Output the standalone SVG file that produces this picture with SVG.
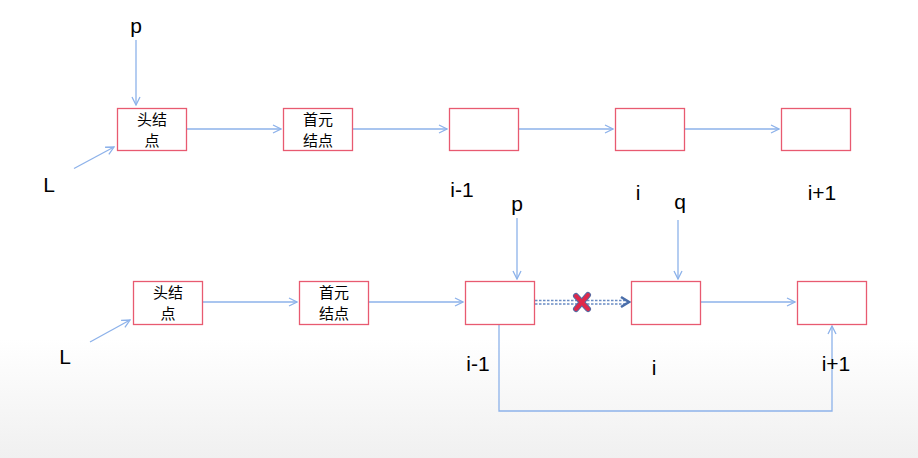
<svg xmlns="http://www.w3.org/2000/svg" width="918" height="458" viewBox="0 0 918 458">
<defs>
<linearGradient id="bg" x1="0" y1="0" x2="0" y2="1">
<stop offset="0" stop-color="#ffffff"/>
<stop offset="0.74" stop-color="#ffffff"/>
<stop offset="1" stop-color="#f0f0f0"/>
</linearGradient>
<marker id="arr" viewBox="0 0 10 10" refX="9" refY="5" markerWidth="10" markerHeight="10" markerUnits="userSpaceOnUse" orient="auto">
<path d="M1,1 L9,5 L1,9" fill="none" stroke="#8db2ea" stroke-width="1.3"/>
</marker>
<style>
.box{fill:#fff;stroke:#e85a70;stroke-width:1.3}
.ln{fill:none;stroke:#8db2ea;stroke-width:1.3}
.cn{font-family:"Noto Sans CJK SC","Liberation Sans",sans-serif;font-size:15px;fill:#000;text-anchor:middle}
.lb{font-family:"Liberation Sans",Arial,sans-serif;font-size:21px;fill:#000;text-anchor:middle}
</style>
</defs>
<rect width="918" height="458" fill="url(#bg)"/>
<g id="connectors">
<line class="ln" x1="136" y1="40" x2="136" y2="105" marker-end="url(#arr)"/>
<line class="ln" x1="74" y1="168.5" x2="114" y2="147" marker-end="url(#arr)"/>
<line class="ln" x1="187" y1="129" x2="281" y2="129" marker-end="url(#arr)"/>
<line class="ln" x1="353" y1="129" x2="447" y2="129" marker-end="url(#arr)"/>
<line class="ln" x1="519" y1="129" x2="613" y2="129" marker-end="url(#arr)"/>
<line class="ln" x1="685" y1="129" x2="779" y2="129" marker-end="url(#arr)"/>
<line class="ln" x1="90" y1="342" x2="130" y2="320" marker-end="url(#arr)"/>
<line class="ln" x1="202" y1="302" x2="297" y2="302" marker-end="url(#arr)"/>
<line class="ln" x1="368" y1="302" x2="463" y2="302" marker-end="url(#arr)"/>
<line class="ln" x1="517" y1="218" x2="517" y2="279" marker-end="url(#arr)"/>
<line class="ln" x1="678" y1="220" x2="678" y2="279" marker-end="url(#arr)"/>
<line class="ln" x1="701" y1="302" x2="795" y2="302" marker-end="url(#arr)"/>
<polyline class="ln" points="499,324 499,411 832,411 832,326" marker-end="url(#arr)"/>
<line x1="535" y1="300.5" x2="626" y2="300.5" stroke="#6a8cc4" stroke-width="1.6" stroke-dasharray="2.5,1.5"/>
<line x1="535" y1="304" x2="626" y2="304" stroke="#6a8cc4" stroke-width="1.6" stroke-dasharray="2.5,1.5"/>
<path d="M621,297 L629,302 L621,307" fill="none" stroke="#4a6eaa" stroke-width="2.6"/>
<g stroke="#5a6aa0" stroke-width="6" stroke-linecap="round">
<line x1="576" y1="296" x2="588" y2="309"/>
<line x1="588" y1="295" x2="576" y2="309"/>
</g>
<g stroke="#e0284a" stroke-width="4" stroke-linecap="round">
<line x1="576" y1="296" x2="588" y2="309"/>
<line x1="588" y1="295" x2="576" y2="309"/>
</g>
</g>
<g id="t1"><rect class="box" x="117.5" y="108.5" width="69" height="42"/><text class="cn" x="152" y="125">头结</text><text class="cn" x="152" y="146">点</text></g>
<g id="t2"><rect class="box" x="283.5" y="108.5" width="69" height="42"/><text class="cn" x="318" y="125">首元</text><text class="cn" x="318" y="146">结点</text></g>
<g id="t3"><rect class="box" x="449.5" y="108.5" width="69" height="42"/></g>
<g id="t4"><rect class="box" x="615.5" y="108.5" width="69" height="42"/></g>
<g id="t5"><rect class="box" x="781.5" y="108.5" width="69" height="42"/></g>
<g id="b1"><rect class="box" x="133.5" y="281.5" width="69" height="43"/><text class="cn" x="168" y="298">头结</text><text class="cn" x="168" y="319">点</text></g>
<g id="b2"><rect class="box" x="299.5" y="281.5" width="69" height="43"/><text class="cn" x="334" y="298">首元</text><text class="cn" x="334" y="319">结点</text></g>
<g id="b3"><rect class="box" x="465.5" y="281.5" width="69" height="43"/></g>
<g id="b4"><rect class="box" x="631.5" y="281.5" width="69" height="43"/></g>
<g id="b5"><rect class="box" x="797.5" y="281.5" width="69" height="43"/></g>
<g id="labels">
<text class="lb" x="136" y="33">p</text>
<text class="lb" x="49" y="192">L</text>
<text class="lb" x="462" y="197">i-1</text>
<text class="lb" x="638" y="200">i</text>
<text class="lb" x="822" y="200">i+1</text>
<text class="lb" x="517" y="211">p</text>
<text class="lb" x="680" y="209">q</text>
<text class="lb" x="65" y="364">L</text>
<text class="lb" x="478" y="371">i-1</text>
<text class="lb" x="654" y="375">i</text>
<text class="lb" x="836" y="371">i+1</text>
</g>
</svg>
